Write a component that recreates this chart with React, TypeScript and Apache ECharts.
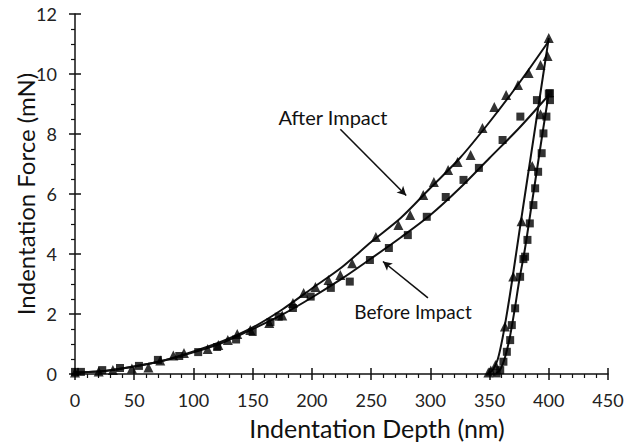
import React, { useEffect, useRef } from "react";
import * as echarts from "echarts";

// Indentation depth (nm) / force (mN) measurements
const afterLoadPts: [number, number][] = [
  [0, 0.05], [20, 0.08], [32, 0.13], [48, 0.18], [62, 0.22], [72, 0.45], [83, 0.62], [92, 0.7],
  [112, 0.83], [121, 0.97], [129, 1.13], [137, 1.33], [148, 1.47], [164, 1.7], [175, 1.95],
  [184, 2.37], [193, 2.7], [203, 2.9], [214, 3.13], [224, 3.3], [234, 3.69], [254, 4.57],
  [273, 4.97], [283, 5.3], [294, 5.97], [303, 6.4], [315, 6.8], [323, 7.07], [334, 7.3],
  [344, 8.2], [354, 8.9], [364, 9.3], [374, 9.63], [383, 10.03], [393, 10.3], [400, 11.2],
];
const afterUnloadPts: [number, number][] = [
  [349, 0.05], [351, 0.12], [355, 0.3], [363, 1.58], [370, 3.25], [377, 5.09], [386, 6.93],
  [393, 8.66], [399, 10.6],
];
const beforeLoadPts: [number, number][] = [
  [0, 0.07], [5, 0.07], [23, 0.13], [38, 0.2], [54, 0.27], [70, 0.47], [88, 0.6], [104, 0.73],
  [120, 0.9], [136, 1.15], [150, 1.4], [165, 1.73], [172, 1.91], [184, 2.2], [199, 2.58],
  [216, 2.87], [232, 3.08], [249, 3.8], [265, 4.2], [281, 4.63], [297, 5.24], [313, 5.9],
  [328, 6.47], [341, 6.87], [361, 7.8], [376, 8.58], [390, 9.13], [400, 9.35],
];
const beforeUnloadPts: [number, number][] = [
  [356, 0.02], [359, 0.13], [361.7, 0.41], [364.6, 0.74], [367.4, 1.13], [368.8, 1.63],
  [371.6, 2.19], [375.8, 3.24], [378.6, 3.83], [380, 3.91], [382, 4.47], [384, 5.02],
  [387, 5.63], [388.5, 6.19], [391, 6.74], [394, 7.36], [395.5, 8.02], [398, 8.58], [401, 9.13],
  [401, 9.36],
];

// Fitted trend curves
const afterLoadFit: [number, number][] = [
  [0, 0.05], [25, 0.1], [50, 0.25], [75, 0.45], [100, 0.75], [125, 1.1], [150, 1.55],
  [175, 2.15], [200, 2.85], [225, 3.55], [250, 4.4], [275, 5.2], [300, 6.2], [325, 7.2],
  [350, 8.4], [375, 9.7], [400, 11.1],
];
const afterUnloadFit: [number, number][] = [
  [349, 0], [353, 0.15], [357, 0.5], [361, 1.2], [365, 2.1], [369, 3.1], [375, 4.7],
  [385, 7.3], [395, 9.9], [400, 11.2],
];
const beforeLoadFit: [number, number][] = [
  [0, 0.05], [25, 0.1], [50, 0.25], [75, 0.45], [100, 0.72], [125, 1.05], [150, 1.5],
  [175, 1.98], [200, 2.55], [225, 3.17], [250, 3.85], [275, 4.55], [300, 5.3], [325, 6.2],
  [350, 7.2], [375, 8.2], [400, 9.3],
];
const beforeUnloadFit: [number, number][] = [
  [355, 0], [359, 0.15], [363, 0.55], [367, 1.2], [371, 2.1], [375, 3.1], [380, 4.2],
  [385, 5.5], [390, 6.8], [395, 8.1], [400, 9.35],
];

// Annotation arrows in data coordinates: [from, to]
const afterArrow: [number, number][] = [[224, 8.16], [279.6, 5.95]];
const beforeArrow: [number, number][] = [[298, 2.54], [260, 3.75]];

const xTicks = { min: 0, max: 450, interval: 50 };
const yTicks = { min: 0, max: 12, interval: 2 };

const FONT = "Lato, 'Open Sans', sans-serif";
const INK = "#111";

export default function App() {
  const ref = useRef<HTMLDivElement>(null);

  useEffect(() => {
    if (!ref.current) return;
    const chart = echarts.init(ref.current, undefined, { renderer: "svg" });

    const lineSeries = (data: [number, number][]) => ({
      type: "line",
      data,
      smooth: 0.3,
      showSymbol: false,
      symbol: "none",
      lineStyle: { color: INK, width: 2 },
      z: 3,
    });
    const markerSeries = (data: [number, number][], symbol: string, size: number | number[]) => ({
      type: "scatter",
      data,
      symbol,
      symbolSize: size,
      itemStyle: { color: "#000" },
      z: 4,
    });
    const arrowSeries = (pts: [number, number][]) => ({
      type: "line",
      data: [],
      markLine: {
        silent: true,
        symbol: ["none", "arrow"],
        symbolSize: [7, 9],
        lineStyle: { color: INK, width: 1.6, type: "solid" },
        label: { show: false },
        data: [[{ coord: pts[0] }, { coord: pts[1] }]],
      },
    });

    const baseX = {
      type: "value",
      min: xTicks.min,
      max: xTicks.max,
      interval: xTicks.interval,
      splitLine: { show: false },
    };
    const baseY = {
      type: "value",
      min: yTicks.min,
      max: yTicks.max,
      interval: yTicks.interval,
      splitLine: { show: false },
    };

    chart.setOption({
      animation: false,
      grid: { left: 75, right: 33, top: 14, bottom: 69, containLabel: false },
      xAxis: [
        {
          ...baseX,
          axisLine: { lineStyle: { color: INK, width: 1.5 } },
          axisTick: { show: true, length: 6, lineStyle: { color: INK, width: 1.5 } },
          minorTick: { show: true, splitNumber: 5, length: 4, lineStyle: { color: INK, width: 1.2 } },
          axisLabel: { color: "#222", fontSize: 18, fontFamily: FONT, margin: 17 },
        },
        {
          ...baseX,
          position: "bottom",
          axisLine: { show: false },
          axisTick: { show: true, inside: true, length: 6, lineStyle: { color: INK, width: 1.5 } },
          axisLabel: { show: false },
        },
      ],
      yAxis: [
        {
          ...baseY,
          axisLine: { lineStyle: { color: INK, width: 1.5 } },
          axisTick: { show: true, length: 6, lineStyle: { color: INK, width: 1.5 } },
          minorTick: { show: true, splitNumber: 4, length: 4, lineStyle: { color: INK, width: 1.2 } },
          axisLabel: { color: "#222", fontSize: 18, fontFamily: FONT, margin: 18 },
        },
        {
          ...baseY,
          position: "left",
          axisLine: { show: false },
          axisTick: { show: true, inside: true, length: 6, lineStyle: { color: INK, width: 1.5 } },
          axisLabel: { show: false },
        },
      ],
      series: [
        lineSeries(afterLoadFit),
        lineSeries(afterUnloadFit),
        lineSeries(beforeLoadFit),
        lineSeries(beforeUnloadFit),
        markerSeries(afterLoadPts, "triangle", [10, 10]),
        markerSeries(afterUnloadPts, "triangle", [10, 10]),
        markerSeries(beforeLoadPts, "rect", 8),
        markerSeries(beforeUnloadPts, "rect", 8),
        arrowSeries(afterArrow),
        arrowSeries(beforeArrow),
      ],
      graphic: [
        {
          type: "text",
          x: 333,
          y: 117,
          style: {
            text: "After Impact",
            fontSize: 20,
            fontFamily: FONT,
            fill: "#111",
            textAlign: "center",
            textVerticalAlign: "middle",
          },
        },
        {
          type: "text",
          x: 413,
          y: 311,
          style: {
            text: "Before Impact",
            fontSize: 19,
            fontFamily: FONT,
            fill: "#111",
            textAlign: "center",
            textVerticalAlign: "middle",
          },
        },
        {
          type: "text",
          x: 377,
          y: 428,
          style: {
            text: "Indentation Depth (nm)",
            fontSize: 25,
            fontFamily: FONT,
            fill: "#111",
            textAlign: "center",
            textVerticalAlign: "middle",
          },
        },
        {
          type: "text",
          x: 25,
          y: 194,
          rotation: Math.PI / 2,
          style: {
            text: "Indentation Force (mN)",
            fontSize: 24,
            fontFamily: FONT,
            fill: "#111",
            textAlign: "center",
            textVerticalAlign: "middle",
          },
        },
      ],
    });

    return () => chart.dispose();
  }, []);

  return (
    <div
      ref={ref}
      style={{ position: "fixed", left: 0, top: 0, width: 641, height: 443, background: "#fff" }}
    />
  );
}
